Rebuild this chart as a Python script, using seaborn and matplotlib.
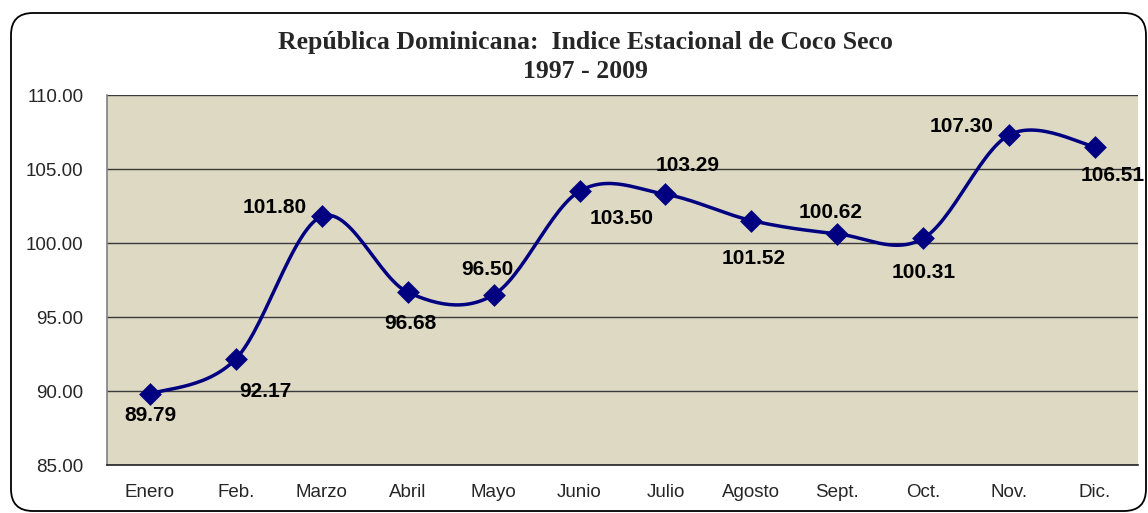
import numpy as np
import matplotlib
matplotlib.use("Agg")
import matplotlib.pyplot as plt
import seaborn as sns
from matplotlib.patches import FancyBboxPatch

# Data
months = ["Enero", "Feb.", "Marzo", "Abril", "Mayo", "Junio", "Julio",
          "Agosto", "Sept.", "Oct.", "Nov.", "Dic."]
index_values = [89.79, 92.17, 101.80, 96.68, 96.50, 103.50, 103.29,
                101.52, 100.62, 100.31, 107.30, 106.51]
y_ticks = [85, 90, 95, 100, 105, 110]
# label offsets in pixels (dx, dy)
label_offsets = [(0, -21), (29, -33), (-47, 9), (3, -31), (-6, 25), (42, -27),
                 (22, 29), (2, -38), (-7, 21), (0, -34), (-48, 8), (18, -29)]

sns.set_style("white")
plt.rcParams["font.family"] = ["Liberation Sans", "DejaVu Sans"]

navy = "#000080"
beige = "#DDD9C3"


def smooth_curve(xv, yv, n=30):
    # Excel-like smoothed line: Catmull-Rom segments as cubic Bezier
    P = np.column_stack([xv, yv]).astype(float)
    out = []
    for i in range(len(P) - 1):
        p0 = P[i - 1] if i > 0 else P[i]
        p1, p2 = P[i], P[i + 1]
        p3 = P[i + 2] if i + 2 < len(P) else P[i + 1]
        c1 = p1 + (p2 - p0) / 6
        c2 = p2 - (p3 - p1) / 6
        t = np.linspace(0, 1, n)[:, None]
        seg = ((1 - t) ** 3) * p1 + 3 * ((1 - t) ** 2) * t * c1 + 3 * (1 - t) * t ** 2 * c2 + t ** 3 * p2
        out.append(seg if i == 0 else seg[1:])
    seg = np.vstack(out)
    return seg[:, 0], seg[:, 1]


fig = plt.figure(figsize=(11.48, 5.13), dpi=100)
ax = fig.add_axes([107 / 1148, 48 / 513, 1031 / 1148, 370 / 513])
ax.set_facecolor(beige)

pos = np.arange(len(months))
cx, cy = smooth_curve(pos, index_values)
sns.lineplot(x=cx, y=cy, sort=False, color=navy, linewidth=2.5, ax=ax, zorder=3)
sns.scatterplot(x=pos, y=index_values, marker="D", s=135, color=navy,
                edgecolor=navy, linewidth=0, ax=ax, zorder=4)

for x, v, (dx, dy) in zip(pos, index_values, label_offsets):
    ax.annotate(f"{v:.2f}", (x, v), xytext=(dx, dy), textcoords="offset pixels",
                ha="center", va="center", fontsize=15, fontweight="bold",
                color="black", zorder=5, annotation_clip=False)

ax.set_xlim(-0.5, 11.5)
ax.set_ylim(85, 110)
ax.set_yticks(y_ticks)
ax.set_yticklabels([f"{t:.2f}" for t in y_ticks], fontsize=13.5)
ax.set_xticks(pos)
ax.set_xticklabels(months, fontsize=13.5)
ax.tick_params(axis="x", length=0, pad=14)
ax.tick_params(axis="y", length=0, pad=17)
ax.yaxis.grid(True, color="#3a3a3a", linewidth=1)
ax.set_axisbelow(True)
for s in ["top", "right"]:
    ax.spines[s].set_visible(False)
ax.spines["left"].set_color("#808080")
ax.spines["left"].set_linewidth(1.2)
ax.spines["bottom"].set_color("#222222")
ax.spines["bottom"].set_linewidth(1.2)
ax.set_xlabel("")
ax.set_ylabel("")

fig.text(585 / 1148, 1 - 43 / 513, "República Dominicana:  Indice Estacional de Coco Seco",
         ha="center", va="center", fontsize=18.5, fontweight="bold",
         family=["Liberation Serif", "DejaVu Serif"])
fig.text(585 / 1148, 1 - 72 / 513, "1997 - 2009",
         ha="center", va="center", fontsize=18.5, fontweight="bold",
         family=["Liberation Serif", "DejaVu Serif"])

border = FancyBboxPatch((0.11, 0.02), 11.35, 4.98,
                        boxstyle="round,pad=0,rounding_size=0.22",
                        transform=fig.dpi_scale_trans, facecolor="none",
                        edgecolor="black", linewidth=1.3, zorder=0)
fig.patches.append(border)

fig.savefig("out.png", dpi=100)
